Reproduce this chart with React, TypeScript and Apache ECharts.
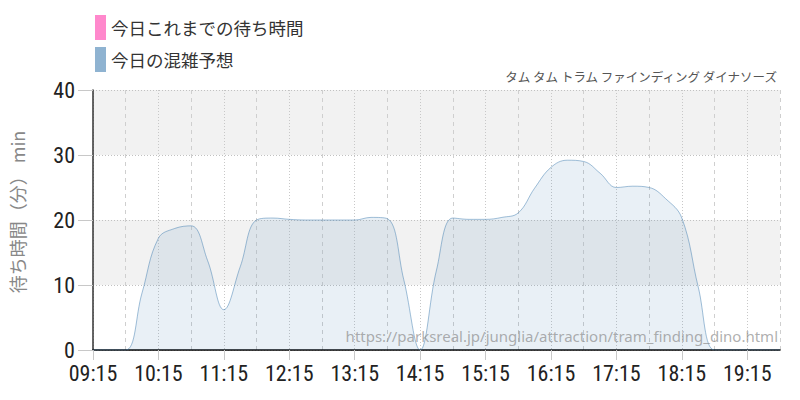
import React, { useEffect, useRef } from "react";
import * as echarts from "echarts";

const times: string[] = [
  "09:15","09:30","09:45","10:00","10:15","10:30","10:45","11:00","11:15","11:30","11:45",
  "12:00","12:15","12:30","12:45","13:00","13:15","13:30","13:45","14:00","14:15","14:30",
  "14:45","15:00","15:15","15:30","15:45","16:00","16:15","16:30","16:45","17:00","17:15",
  "17:30","17:45","18:00","18:15","18:30","18:45","19:00","19:15","19:30","19:45",
];

const forecast: number[] = [
  0, 0, 0, 8.8, 17.2, 18.7, 19.1, 13.8, 6.2, 12.8, 20.0,
  20.3, 20.1, 20.0, 20.0, 20.0, 20.0, 20.4, 20.2, 10.8, 0, 12.3,
  20.3, 20.1, 20.1, 20.4, 21.1, 24.9, 28.1, 29.2, 29.0, 27.2, 25.0,
  25.2, 25.0, 23.3, 20.3, 9.7, 0, 0, 0, 0, 0,
];

const actual: (number | null)[] = [];

const legendNames: string[] = ["今日これまでの待ち時間", "今日の混雑予想"];
const titleText = "タム タム トラム ファインディング ダイナソーズ";
const yAxisName = "待ち時間（分） min";
const watermark = "https://parksreal.jp/junglia/attraction/tram_finding_dino.html";

const NUM_FONT = "'Roboto Condensed', 'DejaVu Sans Condensed', 'Liberation Sans Narrow', Roboto, sans-serif";
const JP_FONT = "'Noto Sans CJK JP', sans-serif";

export default function App() {
  const ref = useRef<HTMLDivElement>(null);
  useEffect(() => {
    document.body.style.margin = "0";
    if (!ref.current) return;
    const chart = echarts.init(ref.current, undefined, { renderer: "svg" });
    chart.setOption({
      animation: false,
      backgroundColor: "#ffffff",
      grid: { left: 90, right: 20, top: 90, bottom: 50, containLabel: false },
      legend: {
        orient: "vertical",
        left: 95,
        top: 15,
        padding: 0,
        itemWidth: 11,
        itemHeight: 25,
        itemGap: 7,
        icon: "rect",
        textStyle: { fontSize: 17.5, color: "#333", fontFamily: JP_FONT },
        data: legendNames,
      },
      title: {
        text: titleText,
        right: 21,
        top: 70,
        padding: 0,
        textStyle: { fontSize: 12.5, color: "#555", fontWeight: "normal", fontFamily: JP_FONT },
      },
      graphic: [
        {
          type: "text",
          right: 22,
          top: 328,
          z: 100,
          style: {
            text: watermark,
            fontSize: 15,
            fontFamily: "'Noto Sans', sans-serif",
            fill: "rgba(140,140,140,0.7)",
          },
        },
      ],
      xAxis: [
        {
          type: "category",
          data: times,
          boundaryGap: false,
          axisLine: { show: true, lineStyle: { color: "#000", width: 1.5 } },
          axisTick: {
            show: true,
            length: 10,
            interval: (i: number) => i % 4 === 0,
            lineStyle: { color: "#c8c8c8" },
          },
          axisLabel: {
            interval: (i: number) => i % 4 === 0,
            fontSize: 22,
            color: "#222",
            margin: 12,
            fontFamily: NUM_FONT,
          },
          splitLine: {
            show: true,
            interval: (i: number) => i % 4 === 0,
            lineStyle: { color: "#c8c8c8", type: [1, 2], width: 1 },
          },
        },
        {
          type: "category",
          data: times,
          boundaryGap: false,
          position: "bottom",
          axisLine: { show: false },
          axisTick: { show: false },
          axisLabel: { show: false },
          splitLine: {
            show: true,
            interval: (i: number) => i % 4 === 2,
            lineStyle: { color: "#cfcfcf", type: [4, 4], width: 1 },
          },
        },
      ],
      yAxis: {
        type: "value",
        min: 0,
        max: 40,
        interval: 10,
        name: yAxisName,
        nameLocation: "middle",
        nameRotate: 90,
        nameGap: 67,
        nameTextStyle: { fontSize: 18, color: "#888", fontFamily: JP_FONT, padding: [0, 0, 0, 16] },
        axisLine: { show: true, lineStyle: { color: "#333", width: 1.5 } },
        axisTick: { show: true, length: 15, lineStyle: { color: "#c8c8c8" } },
        axisLabel: { fontSize: 22, color: "#222", margin: 18, fontFamily: NUM_FONT },
        splitLine: { show: true, lineStyle: { color: "#c0c0c0", type: [1, 2] } },
        splitArea: { show: true, areaStyle: { color: ["rgba(255,255,255,0)", "#f2f2f2"] } },
      },
      series: [
        {
          name: legendNames[0],
          type: "line",
          data: actual,
          color: "#ff88cc",
          symbol: "none",
        },
        {
          name: legendNames[1],
          type: "line",
          data: forecast,
          color: "#8fb3d1",
          smooth: 0.4,
          symbol: "none",
          lineStyle: { color: "rgba(70,130,180,0.5)", width: 1 },
          areaStyle: { color: "rgba(70,130,180,0.17)" },
        },
      ],
    });
    return () => chart.dispose();
  }, []);
  return <div ref={ref} style={{ width: 800, height: 400 }} />;
}
